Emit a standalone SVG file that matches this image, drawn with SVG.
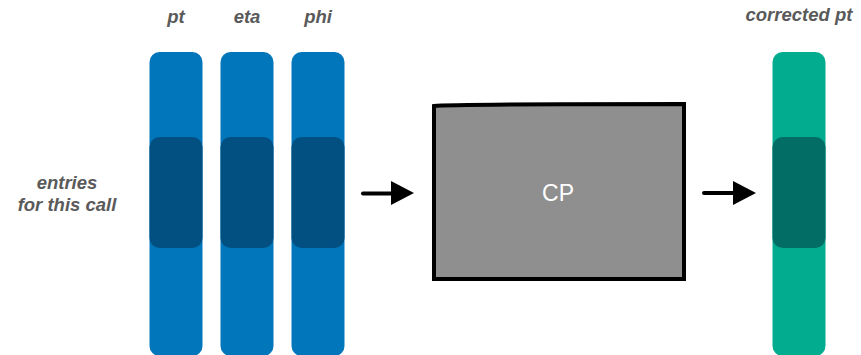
<svg xmlns="http://www.w3.org/2000/svg" width="861" height="355" viewBox="0 0 861 355">
  <style>
    .lbl { font-family: "Liberation Sans", Arial, sans-serif; font-style: italic; font-weight: bold; font-size: 18.5px; fill: #5a5a5a; text-anchor: middle; }
    .col-blue { fill: #0176bb; }
    .band-blue { fill: #024f82; }
    .col-green { fill: #01ad8e; }
    .band-green { fill: #016d65; }
    .cp-text { font-family: "Liberation Sans", Arial, sans-serif; font-size: 23px; fill: #ffffff; text-anchor: middle; }
    .shaft { stroke: #000; stroke-width: 4; stroke-linecap: round; fill: none; }
  </style>

  <!-- input columns -->
  <g id="col-pt">
    <text class="lbl" x="176" y="23">pt</text>
    <rect class="col-blue" x="149.5" y="52" width="53" height="304" rx="10"/>
    <rect class="band-blue" x="149.5" y="137" width="53" height="111" rx="10"/>
  </g>
  <g id="col-eta">
    <text class="lbl" x="247" y="23">eta</text>
    <rect class="col-blue" x="220.5" y="52" width="53" height="304" rx="10"/>
    <rect class="band-blue" x="220.5" y="137" width="53" height="111" rx="10"/>
  </g>
  <g id="col-phi">
    <text class="lbl" x="318" y="23">phi</text>
    <rect class="col-blue" x="291.5" y="52" width="53" height="304" rx="10"/>
    <rect class="band-blue" x="291.5" y="137" width="53" height="111" rx="10"/>
  </g>

  <g id="entries-label">
    <text class="lbl" x="67" y="189">entries</text>
    <text class="lbl" x="67" y="211">for this call</text>
  </g>

  <!-- processing box -->
  <g id="cp">
    <path d="M434 106 Q450 104 684 104 L684 279 L434 279 Z" fill="#8f8f8f" stroke="#000" stroke-width="4" stroke-linejoin="miter"/>
    <text class="cp-text" x="558" y="201">CP</text>
  </g>

  <!-- output column -->
  <g id="col-corrected">
    <text class="lbl" x="799" y="21">corrected pt</text>
    <rect class="col-green" x="772.5" y="52" width="53" height="304" rx="10"/>
    <rect class="band-green" x="772.5" y="137" width="53" height="111" rx="10"/>
  </g>

  <!-- connectors -->
  <g id="connectors">
    <path class="shaft" d="M363 193.5 L394 193.5"/>
    <path d="M391 181 L414 193 L391 205 Z" fill="#000"/>
    <path class="shaft" d="M704 193 L735 193"/>
    <path d="M733 181 L756 193 L733 205 Z" fill="#000"/>
  </g>
</svg>
